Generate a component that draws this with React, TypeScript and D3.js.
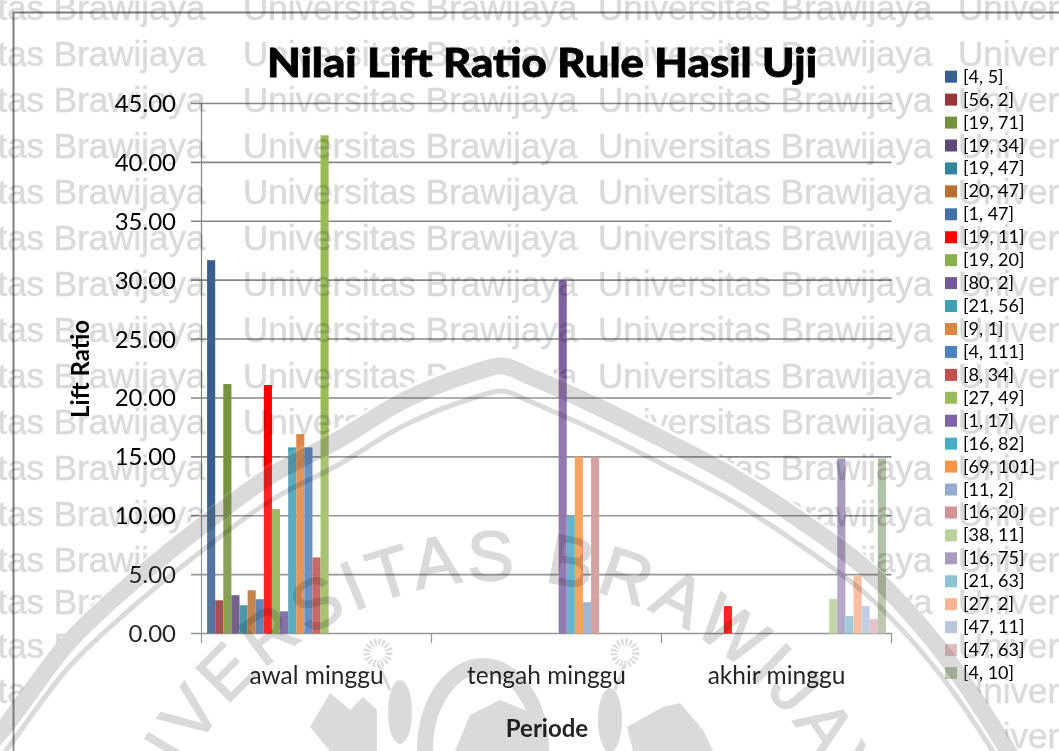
import React from "react";
import * as d3 from "d3";

const categories = ["awal minggu", "tengah minggu", "akhir minggu"];
const seriesNames = ["[4, 5]","[56, 2]","[19, 71]","[19, 34]","[19, 47]","[20, 47]","[1, 47]","[19, 11]","[19, 20]","[80, 2]","[21, 56]","[9, 1]","[4, 111]","[8, 34]","[27, 49]","[1, 17]","[16, 82]","[69, 101]","[11, 2]","[16, 20]","[38, 11]","[16, 75]","[21, 63]","[27, 2]","[47, 11]","[47, 63]","[4, 10]"];
const seriesColors = ["#3a5f8f","#953735","#76923c","#5f497a","#31859c","#b8702f","#4671a8","#ff0000","#8db04f","#735a96","#429eb5","#dd8543","#4f81bd","#c0504d","#9bbb59","#8064a2","#4bacc6","#f79646","#95abd0","#d09494","#bbd09c","#a99bc0","#8fc3d4","#fab592","#b9c6e0","#e0bbbd","#b3c1a5"];
const awalValues = [31.7,2.82,21.18,3.25,2.4,3.67,2.91,21.1,10.56,1.88,15.8,16.93,15.8,6.46,42.3];
const tengahEntries: [number, number][] = [[15,30],[16,10],[17,15],[18,2.66],[19,15]];
const akhirEntries: [number, number][] = [[7,2.33],[20,2.93],[21,14.86],[22,1.48],[23,4.89],[24,2.33],[25,1.22],[26,14.86]];
const yTicks = [0,5,10,15,20,25,30,35,40,45];

const marks: { cat: string; idx: number; value: number }[] = [
  ...awalValues.map((value, idx) => ({ cat: categories[0], idx, value })),
  ...tengahEntries.map(([idx, value]) => ({ cat: categories[1], idx, value })),
  ...akhirEntries.map(([idx, value]) => ({ cat: categories[2], idx, value })),
];

const wmRows = [20,66,112,158,204,250,296,342,388,434,480,526,572,614,658,703,748];
const wmCols = [-129,243,598,958];
const logoEdge: [number, number][] = [[-20,740],[0,720],[68,630],[135,567],[203,512],[270,463],[338,427],[405,387],[473,360],[503,353],[529,363],[596,393],[664,427],[732,463],[800,507],[867,557],[935,630],[999,723],[1020,760]];

const FONT = "Lato, 'Noto Sans', sans-serif";
const WM = "#dadada";

export default function App() {
  const x0 = d3.scaleBand<string>().domain(categories).range([201.5, 891.5]);
  const x1 = d3.scaleBand<number>().domain(d3.range(seriesNames.length)).range([5.6, x0.bandwidth() - 5.6]);
  const y = d3.scaleLinear().domain([0, 45]).range([633.5, 103.5]);
  const legendY = d3.scaleLinear().domain([0, seriesNames.length - 1]).range([76.7, 673]);
  const edge = d3.line().curve(d3.curveCatmullRom);
  const edgePath = edge(logoEdge) as string;
  const above = edgePath + "L1080,760L1080,-20L-20,-20Z";
  const inside = edgePath + "L1080,780L-20,780Z";
  const ringCx = 503, ringCy = 945, ringR = 365;
  const ring = `M${ringCx - ringR},${ringCy}A${ringR},${ringR} 0 1 1 ${ringCx + ringR},${ringCy}`;
  const shift = (dy: number) => edge(logoEdge.map(([a, b]) => [a, b + dy] as [number, number])) as string;
  const baseY = y(0);
  return (
    <svg width={1059} height={751} style={{ position: "fixed", left: 0, top: 0, display: "block" }}>
      <defs>
        <clipPath id="aboveLogo"><path d={above} /></clipPath>
        <path id="ring" d={ring} />
      </defs>
      <rect width={1059} height={751} fill="#fff" />
      <path d="M1059,12.5H13.5V751" fill="none" stroke="#7f7f7f" strokeWidth={2} />
      {yTicks.map((t) => (
        <g key={t}>
          <line x1={191} x2={891.5} y1={y(t)} y2={y(t)} stroke="#868686" strokeWidth={1.6} />
          <text x={176} y={y(t) + 8.5} textAnchor="end" fontFamily={FONT} fontSize={24} fill="#000">{t.toFixed(2)}</text>
        </g>
      ))}
      <line x1={201.5} x2={201.5} y1={103} y2={643} stroke="#868686" strokeWidth={1.2} />
      {[...categories.map((c) => x0(c) as number), 891.5].slice(1).map((v) => (
        <line key={v} x1={v} x2={v} y1={633} y2={643} stroke="#868686" strokeWidth={1.2} />
      ))}
      {marks.map((m) => (
        <rect key={m.cat + m.idx} x={(x0(m.cat) as number) + (x1(m.idx) as number)} y={y(m.value)} width={x1.bandwidth()} height={baseY - y(m.value)} fill={seriesColors[m.idx]} />
      ))}
      {categories.map((c) => (
        <text key={c} x={(x0(c) as number) + x0.bandwidth() / 2} y={684} textAnchor="middle" fontFamily={FONT} fontSize={24.5} fill="#000">{c}</text>
      ))}
      <text x={542} y={77} textAnchor="middle" fontFamily={FONT} fontWeight={900} fontSize={40} textLength={550} lengthAdjust="spacingAndGlyphs" fill="#000" stroke="#000" strokeWidth={0.8}>Nilai Lift Ratio Rule Hasil Uji</text>
      <text transform="translate(89,369) rotate(-90)" textAnchor="middle" fontFamily={FONT} fontWeight={700} fontSize={24} fill="#000">Lift Ratio</text>
      <text x={547} y={737} textAnchor="middle" fontFamily={FONT} fontWeight={700} fontSize={24} fill="#000">Periode</text>
      {seriesNames.map((s, i) => (
        <g key={s}>
          <rect x={945} y={legendY(i) - 6} width={12} height={12} fill={seriesColors[i]} />
          <text x={963} y={legendY(i) + 6} fontFamily={FONT} fontSize={18} fill="#000">{s}</text>
        </g>
      ))}
      {/* watermark */}
      <g style={{ mixBlendMode: "multiply" }} clipPath="url(#aboveLogo)">
        {wmRows.map((r) => wmCols.map((c) => (
          <text key={r + "-" + c} x={c} y={r} fontFamily="'Liberation Sans', Arial, sans-serif" fontSize={35} fill={WM} stroke={WM} strokeWidth={0.5}>Universitas Brawijaya</text>
        )))}
      </g>
      <path d={inside} fill="#fff" fillOpacity={0.14} />
      <g style={{ mixBlendMode: "multiply" }}>
        <path d={shift(13)} fill="none" stroke={WM} strokeWidth={17} />
        <path d={shift(38)} fill="none" stroke={WM} strokeWidth={5} />
        <text fontFamily="'Liberation Sans', Arial, sans-serif" fontSize={70} fill={WM} stroke={WM} strokeWidth={1.6} letterSpacing={5}>
          <textPath href="#ring" startOffset="49%" textAnchor="middle">UNIVERSITAS BRAWIJAYA</textPath>
        </text>
        <ellipse cx={483} cy={750} rx={58} ry={84} fill="none" stroke={WM} strokeWidth={16} />
        <circle cx={378} cy={653} r={11} fill="none" stroke={WM} strokeWidth={7} strokeDasharray="2 2" />
        <circle cx={625} cy={653} r={11} fill="none" stroke={WM} strokeWidth={7} strokeDasharray="2 2" />
        <path d="M378,664L390,690M625,664L615,690" stroke={WM} strokeWidth={3} fill="none" />
        <ellipse cx={400} cy={712} rx={12} ry={32} fill={WM} />
        <ellipse cx={610} cy={720} rx={12} ry={32} fill={WM} />
        <path d="M310,727L330,693L350,710L363,697L377,710L377,751H330Z" fill={WM} />
        <path d="M627,727L663,707L680,703L703,730L713,751H633Z" fill={WM} />
        <path d="M455,751L470,715L500,700L530,712L535,751Z" fill={WM} />
      </g>
    </svg>
  );
}
